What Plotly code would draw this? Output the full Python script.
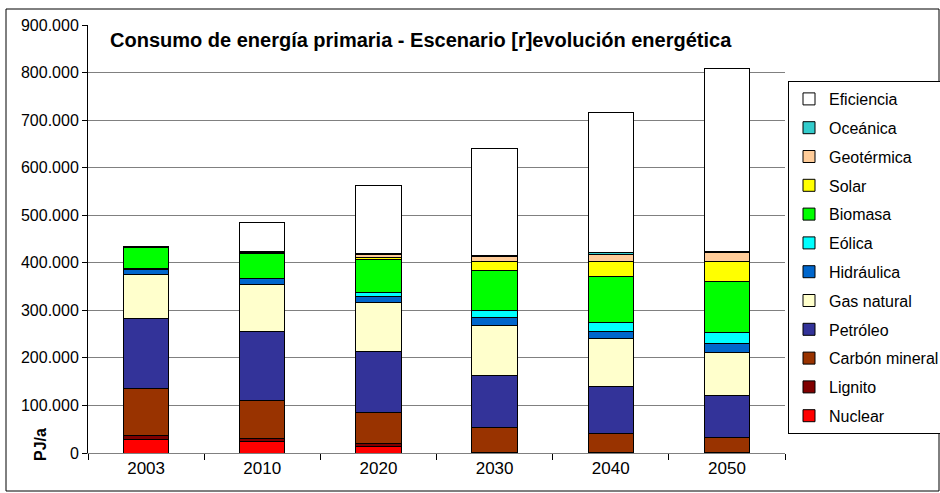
import plotly.graph_objects as go

years = ["2003", "2010", "2020", "2030", "2040", "2050"]

# values in PJ/a
nuclear    = [29000, 25000, 13000, 0, 0, 0]
lignito    = [8000, 5000, 7000, 2000, 1000, 1000]
carbon     = [99000, 81000, 66000, 52000, 39000, 31000]
petroleo   = [147000, 145000, 127000, 108000, 99000, 88000]
gas        = [93000, 98000, 104000, 107000, 101000, 91000]
hidraulica = [10000, 12000, 13000, 16000, 16000, 19000]
eolica     = [1000, 2000, 8000, 15000, 19000, 24000]
biomasa    = [45000, 52000, 69000, 84000, 97000, 106000]
solar      = [1000, 2000, 4000, 18000, 30000, 42000]
geotermica = [1000, 2000, 7000, 12000, 16000, 20000]
oceanica   = [0, 0, 1000, 1000, 3000, 1000]
eficiencia = [0, 61000, 144000, 225000, 295000, 385000]

y_ticks = [0, 100000, 200000, 300000, 400000, 500000, 600000, 700000, 800000, 900000]

series = [
    ("Nuclear", nuclear, "#FF0000"),
    ("Lignito", lignito, "#800000"),
    ("Carbón mineral", carbon, "#993300"),
    ("Petróleo", petroleo, "#333399"),
    ("Gas natural", gas, "#FFFFCC"),
    ("Hidráulica", hidraulica, "#0066CC"),
    ("Eólica", eolica, "#00FFFF"),
    ("Biomasa", biomasa, "#00FF00"),
    ("Solar", solar, "#FFFF00"),
    ("Geotérmica", geotermica, "#FFCC99"),
    ("Oceánica", oceanica, "#33CCCC"),
    ("Eficiencia", eficiencia, "#FFFFFF"),
]

FONT = "Liberation Sans, Arial, sans-serif"

fig = go.Figure()
n = len(series)
for i, (name, vals, col) in enumerate(series):
    fig.add_trace(go.Bar(
        x=years, y=vals, name=name, legendgroup=name, legendrank=n - i,
        marker=dict(color=col, line=dict(color="black", width=1)),
    ))

L, R, T, B = 88, 155, 25, 40
W, H = 940, 493
pw, ph = W - L - R, H - T - B

def px(x):
    return (x - L) / pw

def py(y):
    return (H - B - y) / ph

fig.update_layout(
    width=W, height=H,
    margin=dict(l=L, r=R, t=T, b=B, autoexpand=False),
    barmode="stack", bargap=0.61,
    separators=",.",
    plot_bgcolor="white", paper_bgcolor="white",
    font=dict(family=FONT, color="black", size=16),
    showlegend=True,
    legend=dict(
        x=px(788), y=py(81), xanchor="left", yanchor="top",
        traceorder="grouped", tracegroupgap=5,
        bordercolor="black", borderwidth=1, bgcolor="white",
        font=dict(family=FONT, size=16, color="black"),
    ),
    xaxis=dict(
        showline=True, linecolor="#808080", linewidth=1,
        ticks="outside", tickson="boundaries", ticklen=6, tickcolor="black",
        tickfont=dict(size=17), showgrid=False,
    ),
    yaxis=dict(
        range=[0, 900000], tickvals=y_ticks, tickformat=",d",
        showline=True, linecolor="black", linewidth=1,
        ticks="outside", ticklen=5, tickcolor="black",
        showgrid=True, gridcolor="#808080", gridwidth=1,
        tickfont=dict(size=16), zeroline=False,
    ),
    annotations=[
        dict(text="<b>Consumo de energía primaria - Escenario [r]evolución energética</b>",
             x=px(108), y=py(40), xref="paper", yref="paper",
             xanchor="left", yanchor="middle", showarrow=False,
             font=dict(family=FONT, size=20, color="black")),
        dict(text="<b>PJ/a</b>", textangle=-90,
             x=px(40), y=py(445), xref="paper", yref="paper",
             xanchor="center", yanchor="middle", showarrow=False,
             font=dict(family=FONT, size=16, color="black")),
    ],
    shapes=[
        dict(type="rect", xref="paper", yref="paper",
             x0=px(6), x1=px(939), y0=py(491), y1=py(9),
             line=dict(color="black", width=1), fillcolor="rgba(0,0,0,0)",
             layer="below"),
    ],
)

fig.write_html("out.html", config={"displayModeBar": False},
               post_script="document.body.style.margin='0';")
